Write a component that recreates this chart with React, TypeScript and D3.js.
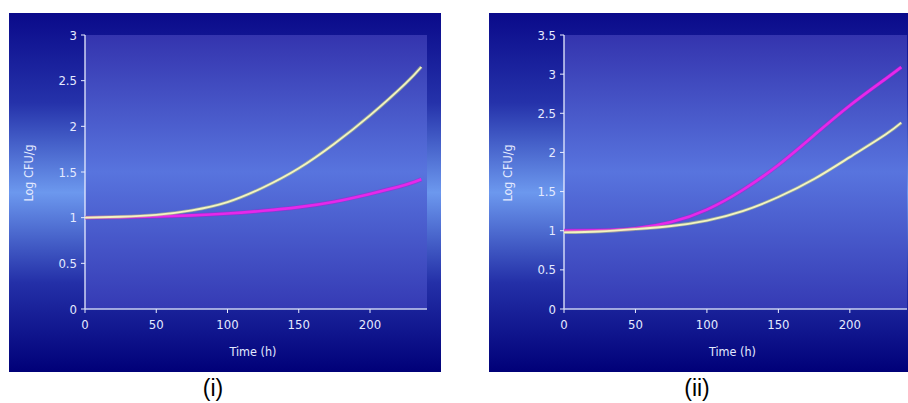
import React from "react";
import * as d3 from "d3";

const times = [0, 25, 50, 75, 100, 125, 150, 175, 200, 225, 236];
const p1Yellow = [1.0, 1.01, 1.03, 1.08, 1.17, 1.33, 1.54, 1.81, 2.12, 2.47, 2.65];
const p1Magenta = [1.0, 1.004, 1.012, 1.025, 1.045, 1.075, 1.115, 1.175, 1.26, 1.36, 1.42];
const p2Yellow = [0.98, 0.99, 1.02, 1.06, 1.13, 1.25, 1.43, 1.66, 1.94, 2.23, 2.38];
const p2Magenta = [1.0, 1.005, 1.03, 1.11, 1.27, 1.52, 1.84, 2.22, 2.6, 2.94, 3.09];
const xTicks = [0, 50, 100, 150, 200];
const p1YTicks = [0, 0.5, 1, 1.5, 2, 2.5, 3];
const p2YTicks = [0, 0.5, 1, 1.5, 2, 2.5, 3, 3.5];
const xLabel = "Time (h)";
const yLabel = "Log CFU/g";
const panelLabels = ["(i)", "(ii)"];

const W = 908;
const H = 403;
const tickFont = "'Liberation Sans Narrow', 'DejaVu Sans Condensed', 'Liberation Sans', Arial, sans-serif";
const textCol = "#e4eaff";

type PanelProps = {
  id: string;
  bgX0: number;
  bgX1: number;
  plotX0: number;
  plotX1: number;
  yMax: number;
  yTicks: number[];
  yellow: number[];
  magenta: number[];
  label: string;
  labelX: number;
};

function Panel(p: PanelProps) {
  const top = 13;
  const bottom = 372;
  const plotTop = 35;
  const plotBottom = 309;
  const x = d3.scaleLinear().domain([0, 240]).range([p.plotX0, p.plotX1]);
  const y = d3.scaleLinear().domain([0, p.yMax]).range([plotBottom, plotTop]);
  const line = d3
    .line<number>()
    .x((_, i) => x(times[i]))
    .y((d) => y(d))
    .curve(d3.curveNatural);
  const yTitleY = 173;
  const xTitleX = (x(0) + x(240)) / 2 - 3;
  return (
    <g>
      <defs>
        <linearGradient id={p.id + "bg"} x1="0" y1="0" x2="0" y2="1">
          <stop offset="0" stopColor="#0a0a8a" />
          <stop offset="0.25" stopColor="#2532aa" />
          <stop offset="0.5" stopColor="#6c98ee" />
          <stop offset="0.75" stopColor="#2430a8" />
          <stop offset="1" stopColor="#000078" />
        </linearGradient>
        <linearGradient id={p.id + "pl"} x1="0" y1="0" x2="0" y2="1">
          <stop offset="0" stopColor="#3434ae" />
          <stop offset="0.5" stopColor="#5874de" />
          <stop offset="1" stopColor="#353ab4" />
        </linearGradient>
      </defs>
      <rect x={p.bgX0} y={top} width={p.bgX1 - p.bgX0} height={bottom - top} fill={`url(#${p.id}bg)`} />
      <rect x={p.plotX0} y={plotTop} width={p.plotX1 - p.plotX0} height={plotBottom - plotTop} fill={`url(#${p.id}pl)`} />
      <line x1={p.plotX0} x2={p.plotX0} y1={plotTop} y2={plotBottom} stroke="#e8ecff" strokeWidth={1.3} />
      <line x1={p.plotX0} x2={p.plotX1} y1={plotBottom} y2={plotBottom} stroke="#c8d0f0" strokeWidth={1.3} />
      {p.yTicks.map((t) => (
        <g key={"y" + t}>
          <line x1={p.plotX0 - 4} x2={p.plotX0} y1={y(t)} y2={y(t)} stroke="#e8ecff" strokeWidth={1} />
          <text x={p.plotX0 - 8} y={y(t)} dy="0.35em" textAnchor="end" fill={textCol} fontFamily={tickFont} fontSize={13}>
            {String(t)}
          </text>
        </g>
      ))}
      {xTicks.map((t) => (
        <g key={"x" + t}>
          <line x1={x(t)} x2={x(t)} y1={plotBottom} y2={plotBottom + 4} stroke="#e8ecff" strokeWidth={1} />
          <text x={x(t)} y={plotBottom + 20} textAnchor="middle" fill={textCol} fontFamily={tickFont} fontSize={13}>
            {String(t)}
          </text>
        </g>
      ))}
      <text x={xTitleX} y={356} textAnchor="middle" fill={textCol} fontFamily={tickFont} fontSize={12.5}>
        {xLabel}
      </text>
      <text
        transform={`translate(${p.plotX0 - 52},${yTitleY}) rotate(-90)`}
        textAnchor="middle"
        fill={textCol}
        fontFamily={tickFont}
        fontSize={12.5}
      >
        {yLabel}
      </text>
      <path d={line(p.magenta) || ""} fill="none" stroke="#c010d0" strokeWidth={4} strokeOpacity={0.5} />
      <path d={line(p.magenta) || ""} fill="none" stroke="#e628ea" strokeWidth={2.6} />
      <path d={line(p.yellow) || ""} fill="none" stroke="#b8c880" strokeWidth={3.4} strokeOpacity={0.6} />
      <path d={line(p.yellow) || ""} fill="none" stroke="#f4f4c0" strokeWidth={1.8} />
      <text x={p.labelX} y={396} textAnchor="middle" fill="#000" fontFamily="'Liberation Sans', Arial, sans-serif" fontSize={23}>
        {p.label}
      </text>
    </g>
  );
}

export default function App() {
  return (
    <svg
      width={W}
      height={H}
      viewBox={`0 0 ${W} ${H}`}
      style={{ position: "absolute", left: 0, top: 0, display: "block", background: "#fff" }}
    >
      <Panel
        id="p1"
        bgX0={9}
        bgX1={441}
        plotX0={85}
        plotX1={427}
        yMax={3}
        yTicks={p1YTicks}
        yellow={p1Yellow}
        magenta={p1Magenta}
        label={panelLabels[0]}
        labelX={213}
      />
      <Panel
        id="p2"
        bgX0={489}
        bgX1={908}
        plotX0={564}
        plotX1={907}
        yMax={3.5}
        yTicks={p2YTicks}
        yellow={p2Yellow}
        magenta={p2Magenta}
        label={panelLabels[1]}
        labelX={697}
      />
    </svg>
  );
}
